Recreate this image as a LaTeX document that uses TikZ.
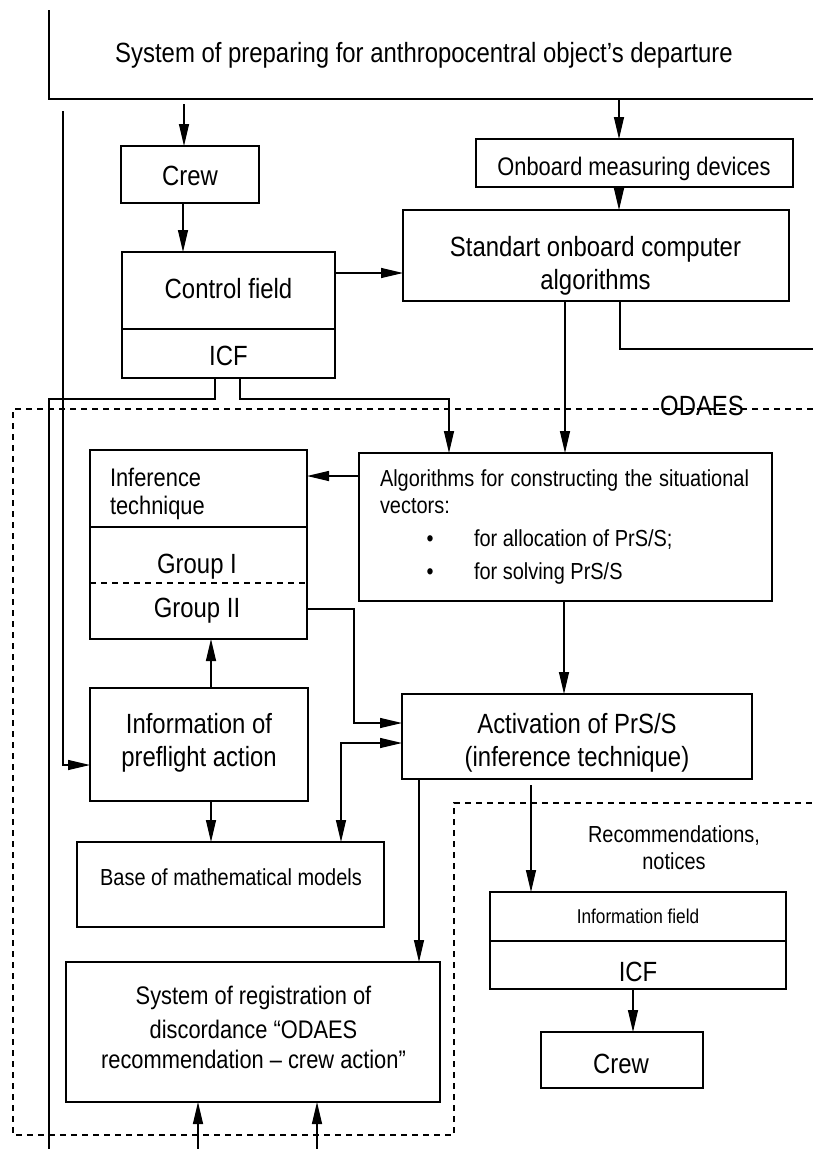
\documentclass[tikz,border=0pt]{standalone}
\usepackage{fontspec}
\setmainfont{Liberation Sans}[FakeStretch=0.86]
\usetikzlibrary{arrows.meta,calc}
\newcommand\fsz[1]{\fontsize{#1}{#1}\selectfont}
\begin{document}
\begin{tikzpicture}[x=1pt,y=-1pt,
  box/.style={draw, line width=1.5pt, inner sep=0pt, outer sep=0pt},
  lw/.style={line width=1.5pt},
  con/.style={line width=1.3pt},
  tip/.tip={Triangle[length=22pt,width=10pt]},
  arr/.style={con, -tip},
  dsh/.style={line width=1.3pt, dash pattern=on 6pt off 5pt},
  txt/.style={anchor=base, inner sep=0pt, outer sep=0pt},
  t24/.style={txt, font=\fsz{27.8}},
  t22/.style={txt, font=\fsz{25.4}},
  t20/.style={txt, font=\fsz{23.2}},
  t17/.style={txt, font=\fsz{20}}]
\useasboundingbox (0,0) rectangle (813,1149);

% top box (cut by the page)
\draw[lw] (49,10) -- (49,99) -- (813,99);
\node[t24] (toptxt) at (424,62) {System of preparing for anthropocentral object’s departure};

% boxes
\node[box, minimum width=138pt, minimum height=57pt] (crew1) at (190,174.5) {};
\node[box, minimum width=213pt, minimum height=77pt] (ctrl) at (228.5,290.5) {};
\node[box, minimum width=213pt, minimum height=49pt] (icf1) at (228.5,353.5) {};
\node[box, minimum width=317pt, minimum height=48pt] (onboard) at (634.5,163) {};
\node[box, minimum width=386pt, minimum height=91pt] (std) at (596,255.5) {};
\node[box, minimum width=413pt, minimum height=148pt] (algo) at (565.5,527) {};
\node[box, minimum width=217pt, minimum height=77pt] (inf) at (198.5,488.5) {};
\node[box, minimum width=217pt, minimum height=112pt] (grp) at (198.5,583) {};
\node[box, minimum width=218pt, minimum height=113pt] (info) at (199,744.5) {};
\node[box, minimum width=350pt, minimum height=85pt] (act) at (577,736.5) {};
\node[box, minimum width=307pt, minimum height=85pt] (nbase) at (230.5,884.5) {};
\node[box, minimum width=374pt, minimum height=140pt] (reg) at (253,1032) {};
\node[box, minimum width=296pt, minimum height=49pt] (ifield) at (638,916.5) {};
\node[box, minimum width=296pt, minimum height=48pt] (icf2) at (638,965) {};
\node[box, minimum width=162pt, minimum height=56pt] (crew2) at (622,1060) {};

% group divider
\draw[dsh] (grp.west |- 0,583) -- (grp.east |- 0,583);

% texts
\node[t24] (crew1t) at (190,185) {Crew};
\node[t22] (onbt) at (634,175) {Onboard measuring devices};
\node[t24] (ctrlt) at (228.5,298) {Control field};
\node[t24] (icf1t) at (228.5,365) {ICF};
\node[t24] (stdt1) at (595.5,256) {Standart onboard computer};
\node[t24] (stdt2) at (595.5,289) {algorithms};
\node[t24] (odaes) at (702,415) {ODAES};
\node[t22, anchor=base west] (inft1) at (110,486) {Inference};
\node[t22, anchor=base west] (inft2) at (110,514) {technique};
\node[t24] (g1) at (197,573) {Group I};
\node[t24] (g2) at (197,617) {Group II};
\node[t20, anchor=base west] (al1) at (380,486) {\makebox[369pt][s]{Algorithms for constructing the situational}};
\node[t20, anchor=base west] (al2) at (380,513) {vectors:};
\node[t20] (b1) at (430,546) {•};
\node[t20, anchor=base west] (al3) at (474,546) {for allocation of PrS/S;};
\node[t20] (b2) at (430,579) {•};
\node[t20, anchor=base west] (al4) at (474,579) {for solving PrS/S};
\node[t24] (infot1) at (199,733) {Information of};
\node[t24] (infot2) at (199,766) {preflight action};
\node[t24] (actt1) at (577,733) {Activation of PrS/S};
\node[t24] (actt2) at (577,766) {(inference technique)};
\node[t20] (baset) at (231,885) {Base of mathematical models};
\node[t20] (rec1) at (674,842) {Recommendations,};
\node[t20] (rec2) at (674,869) {notices};
\node[t17] (ifieldt) at (638,923) {Information field};
\node[t24] (icf2t) at (638,981) {ICF};
\node[t24] (crew2t) at (621,1073) {Crew};
\node[t22] (reg1) at (253.5,1004) {System of registration of};
\node[t22] (reg2) at (253.5,1038) {discordance “ODAES};
\node[t22] (reg3) at (253.5,1068) {recommendation – crew action”};

% ODAES dashed boundary
\draw[dsh] (813,409) -- (13,409) -- (13,1135) -- (454,1135) -- (454,803) -- (813,803);

% connectors
\draw[arr] (184,104) -- (184,0 |- crew1.north);
\draw[arr] (619,99) -- (619,0 |- onboard.north);
\draw[arr] (183,0 |- crew1.south) -- (183,0 |- ctrl.north);
\draw[arr] (ctrl.east |- 0,273) -- (std.west |- 0,273);
\draw[arr] (619,0 |- onboard.south) -- (619,0 |- std.north);
\draw[arr] (565,0 |- std.south) -- (565,0 |- algo.north);
\draw[con] (620,0 |- std.south) -- (620,349) -- (813,349);
\draw[con] (215,0 |- icf1.south) -- (215,399) -- (49,399) -- (49,1149);
\draw[arr] (240,0 |- icf1.south) -- (240,399) -- (449,399) -- (449,0 |- algo.north);
\draw[arr] (63,111) -- (63,765) -- (info.west |- 0,765);
\draw[arr] (algo.west |- 0,476) -- (inf.east |- 0,476);
\draw[arr] (grp.east |- 0,609) -- (354,609) -- (354,723) -- (act.west |- 0,723);
\draw[arr] (564,0 |- algo.south) -- (564,0 |- act.north);
\draw[arr] (211,0 |- info.north) -- (211,0 |- grp.south);
\draw[arr] (211,0 |- info.south) -- (211,0 |- nbase.north);
\draw[con, tip-tip] (341,0 |- nbase.north) -- (341,743) -- (act.west |- 0,743);
\draw[arr] (419,0 |- act.south) -- (419,0 |- reg.north);
\draw[arr] (531,785) -- (531,0 |- ifield.north);
\draw[arr] (633,0 |- icf2.south) -- (633,0 |- crew2.north);
\draw[arr] (198,1149) -- (198,0 |- reg.south);
\draw[arr] (317,1149) -- (317,0 |- reg.south);
\end{tikzpicture}
\end{document}
